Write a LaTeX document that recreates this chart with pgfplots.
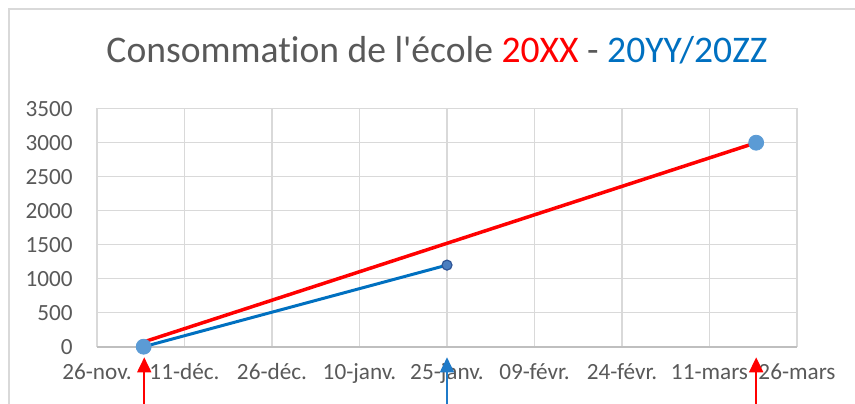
\documentclass[border=0pt]{standalone}
\usepackage{fontspec}
\setmainfont{Carlito}[Ligatures={TeXOff,CommonOff}]
\usepackage{pgfplots}
\pgfplotsset{compat=1.18}
\usetikzlibrary{arrows.meta}
\definecolor{txt}{HTML}{595959}
\definecolor{gridc}{HTML}{D9D9D9}
\definecolor{axc}{HTML}{BFBFBF}
\definecolor{blueline}{HTML}{0070C0}
\definecolor{mk}{HTML}{5B9BD5}
\definecolor{mkdark}{HTML}{4A7EC0}
\definecolor{mkedge}{HTML}{2F5597}
\definecolor{arrowblue}{HTML}{1F7AC8}
\begin{document}
\begin{tikzpicture}
\useasboundingbox (0,0) rectangle (427.5pt,201.5pt);
\clip (0,0) rectangle (427.5pt,201.5pt);
\draw[gridc, line width=0.75pt] (4.5pt,-2pt) -- (4.5pt,197pt) -- (432pt,197pt);
\node[anchor=base, font=\fontsize{18.8}{20}\selectfont, text=txt, inner sep=0pt] at (218.5pt,170.5pt) {Consommation de l'école \textcolor{red}{20XX} - \textcolor{blueline}{20YY/20ZZ}};
\begin{axis}[at={(48.5pt,28.15pt)}, anchor=south west, scale only axis, width=350pt, height=119pt,
 xmin=0, xmax=120, ymin=0, ymax=3500,
 xtick={0,15,...,120},
 xticklabels={26-nov.,11-déc.,26-déc.,10-janv.,25-janv.,09-févr.,24-févr.,11-mars,26-mars},
 ytick={0,500,...,3500},
 grid=major, major grid style={gridc, line width=0.75pt},
 axis line style={gridc, line width=0.75pt},
 major tick length=0pt,
 tick label style={font=\fontsize{11.6}{12}\selectfont, text=txt},
 /pgf/number format/assume math mode=true,
 /pgf/number format/1000 sep={},
 yticklabel style={anchor=east, inner sep=0pt, xshift=-12pt},
 xticklabel style={anchor=base, inner sep=0pt, yshift=-16.5pt},
 clip=false]
\draw[axc, line width=0.9pt] (axis cs:0,0) -- (axis cs:120,0);
\addplot[red, line width=1.75pt] coordinates {(8,70) (113,3000)};
\addplot[blueline, line width=1.5pt, mark=*, mark indices={2}, mark size=2.5pt, mark options={fill=mkdark, draw=mkedge, line width=0.6pt}] coordinates {(8,0) (60,1200)};
\addplot[only marks, mark=*, mark size=3.75pt, mark options={fill=mk, draw=mk}] coordinates {(8,0) (113,3000)};
\draw[red, line width=0.9pt, -{Triangle[length=7.5pt,width=7pt]}] ([yshift=-32pt]axis cs:8.1,0) -- ([yshift=-5.3pt]axis cs:8.1,0);
\draw[red, line width=0.9pt, -{Triangle[length=7.5pt,width=7pt]}] ([yshift=-32pt]axis cs:113,0) -- ([yshift=-5.3pt]axis cs:113,0);
\draw[arrowblue, line width=0.9pt, -{Triangle[length=7.5pt,width=7pt]}] ([yshift=-32pt]axis cs:60,0) -- ([yshift=-5.3pt]axis cs:60,0);
\end{axis}
\end{tikzpicture}
\end{document}
